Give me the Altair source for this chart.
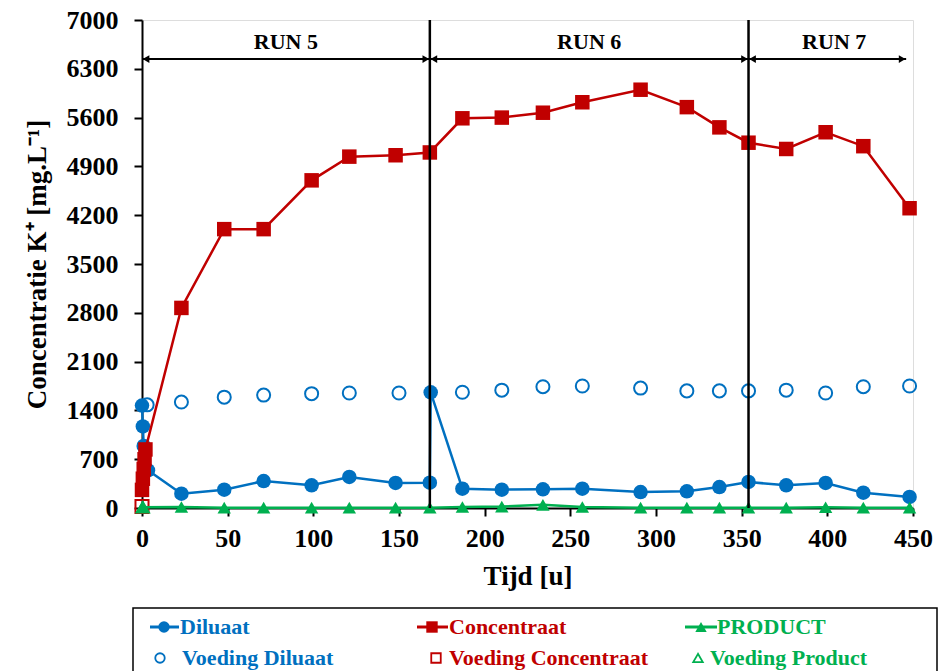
import altair as alt
import pandas as pd

# Sampling times [u] and K+ concentrations [mg/L]
dil_t = [0, 0.5, 1, 3.5, 23, 48, 71, 99, 121, 148, 168, 168.5, 187, 210, 234, 257, 291, 318, 337, 354, 376, 399, 421, 448]
dil_c = [1470, 1170, 890, 540, 205, 263, 387, 325, 445, 359, 363, 1660, 277, 263, 268, 277, 229, 239, 301, 373, 325, 359, 220, 158]

conc_t = [0, 0.5, 1, 1.5, 2, 23, 48, 71, 99, 121, 148, 168, 187, 210, 234, 257, 291, 318, 337, 354, 376, 399, 421, 448]
conc_c = [260, 420, 560, 700, 840, 2870, 4000, 4000, 4700, 5040, 5060, 5100, 5590, 5600, 5670, 5820, 6000, 5750, 5460, 5240, 5150, 5390, 5190, 4300]

prod_t = [0, 23, 48, 71, 99, 121, 148, 168, 187, 210, 234, 257, 291, 318, 337, 354, 376, 399, 421, 448]
prod_c = [10, 15, 5, 5, 5, 5, 5, 5, 15, 20, 45, 15, 5, 5, 5, 5, 5, 10, 5, 5]

feed_dil_t = [3, 23, 48, 71, 99, 121, 150, 187, 210, 234, 257, 291, 318, 337, 354, 376, 399, 421, 448]
feed_dil_c = [1480, 1520, 1590, 1620, 1640, 1650, 1650, 1660, 1690, 1740, 1750, 1720, 1680, 1680, 1680, 1690, 1650, 1740, 1750]

feed_conc_t = [0]
feed_conc_c = [20]

feed_prod_t = [0.5]
feed_prod_c = [10]

# Experimental runs
run_names = ["RUN 5", "RUN 6", "RUN 7"]
run_start = [0, 168, 354]
run_end = [168, 354, 446]
run_label_t = [84, 261, 404]
run_bounds = [168, 354]

BLUE = "#0070C0"
RED = "#C00000"
GREEN = "#00B050"
FONT = "Liberation Serif"

W, H = 771, 488
ARROW_Y = 6440
LABEL_Y = 6680

xs = alt.Scale(domain=[0, 450], nice=False)
ys = alt.Scale(domain=[0, 7000], nice=False)
X = lambda f: alt.X(f, type="quantitative", scale=xs)
Y = lambda f: alt.Y(f, type="quantitative", scale=ys)


def frame(t, c):
    return pd.DataFrame({"t": t, "c": c})


base_x = alt.X(
    "t:Q", scale=xs,
    axis=alt.Axis(
        title="Tijd [u]", values=list(range(0, 451, 50)), format="d",
        grid=False, domainColor="black", domainWidth=2, tickColor="black",
        tickWidth=2, tickSize=8, labelFont=FONT, labelFontSize=26,
        labelFontWeight="bold", labelColor="black", labelPadding=9,
        labelFlush=False, labelOverlap=False,
        titleFont=FONT, titleFontSize=27, titleFontWeight="bold",
        titleColor="black", titlePadding=12,
    ),
)
base_y = alt.Y(
    "c:Q", scale=ys,
    axis=alt.Axis(
        title="Concentratie K\u207a [mg.L\u207b\u00b9]",
        values=list(range(0, 7001, 700)), format="d", grid=False,
        domainColor="black", domainWidth=2, tickColor="black", tickWidth=2,
        tickSize=8, labelFont=FONT, labelFontSize=26, labelFontWeight="bold",
        labelColor="black", labelPadding=16, labelFlush=False, labelOverlap=False,
        titleFont=FONT, titleFontSize=27,
        titleFontWeight="bold", titleColor="black", titlePadding=15,
    ),
)

feed_dil = alt.Chart(frame(feed_dil_t, feed_dil_c)).mark_point(
    shape="circle", filled=False, color=BLUE, strokeWidth=2, size=170, opacity=1
).encode(x=base_x, y=base_y)

dil_line = alt.Chart(frame(dil_t, dil_c)).mark_line(
    color=BLUE, strokeWidth=2.5
).encode(x=X("t"), y=Y("c"), order="index:Q")
dil_pts = alt.Chart(frame(dil_t, dil_c)).mark_point(
    shape="circle", filled=True, color=BLUE, size=210, opacity=1
).encode(x=X("t"), y=Y("c"))

conc_line = alt.Chart(frame(conc_t, conc_c)).mark_line(
    color=RED, strokeWidth=2.5
).encode(x=X("t"), y=Y("c"))
conc_pts = alt.Chart(frame(conc_t, conc_c)).mark_point(
    shape="square", filled=True, color=RED, size=210, opacity=1
).encode(x=X("t"), y=Y("c"))

feed_conc = alt.Chart(frame(feed_conc_t, feed_conc_c)).mark_point(
    shape="square", filled=False, color=RED, strokeWidth=2, size=170, opacity=1
).encode(x=X("t"), y=Y("c"))

prod_line = alt.Chart(frame(prod_t, prod_c)).mark_line(
    color=GREEN, strokeWidth=2.5
).encode(x=X("t"), y=Y("c"))
prod_pts = alt.Chart(frame(prod_t, prod_c)).mark_point(
    shape="triangle-up", filled=True, color=GREEN, size=180, opacity=1
).encode(x=X("t"), y=Y("c"))

feed_prod = alt.Chart(frame(feed_prod_t, feed_prod_c)).mark_point(
    shape="triangle-up", filled=False, color=GREEN, strokeWidth=2, size=150, opacity=1
).encode(x=X("t"), y=Y("c"))

# Run boundaries and run arrows
runs = pd.DataFrame({"run": run_names, "start": run_start, "end": run_end, "mid": run_label_t})
bounds = alt.Chart(pd.DataFrame({"t": run_bounds})).mark_rule(
    color="black", strokeWidth=2.5
).encode(x=X("t"))
arrows = alt.Chart(runs).mark_rule(color="black", strokeWidth=2).encode(
    x=X("start"), x2="end", y=alt.datum(ARROW_Y)
)
heads_l = alt.Chart(runs).mark_point(
    shape="triangle-left", filled=True, color="black", size=60, opacity=1, xOffset=4
).encode(x=X("start"), y=alt.datum(ARROW_Y))
heads_r = alt.Chart(runs).mark_point(
    shape="triangle-right", filled=True, color="black", size=60, opacity=1, xOffset=-4
).encode(x=X("end"), y=alt.datum(ARROW_Y))
run_text = alt.Chart(runs).mark_text(
    font=FONT, fontSize=22, fontWeight="bold", color="black", baseline="middle"
).encode(x=X("mid"), y=alt.datum(LABEL_Y), text="run:N")

# Legend drawn below the axis title
legend_names = ["Diluaat", "Concentraat", "PRODUCT",
                "Voeding Diluaat", "Voeding Concentraat", "Voeding Product"]
legend_colors = [BLUE, RED, GREEN, BLUE, RED, GREEN]
legend_shapes = ["circle", "square", "triangle-up", "circle", "square", "triangle-up"]
col_line = [(8, 37), (275, 306), (543, 575)]
row_y = [607, 638]
marker_x = [22, 290, 559, 18, 294, 556]
text_x = [38, 307, 575, 40, 307, 568]

legend_layers = [
    alt.Chart(pd.DataFrame({"a": [0]})).mark_rect(
        fill=None, stroke="black", strokeWidth=1.5
    ).encode(x=alt.value(-9), x2=alt.value(795), y=alt.value(588), y2=alt.value(665))
]
for i, name in enumerate(legend_names):
    row = i // 3
    col = i % 3
    d = pd.DataFrame({"label": [name]})
    if row == 0:
        x0, x1 = col_line[col]
        legend_layers.append(
            alt.Chart(d).mark_rule(color=legend_colors[i], strokeWidth=3).encode(
                x=alt.value(x0), x2=alt.value(x1), y=alt.value(row_y[row])
            )
        )
    legend_layers.append(
        alt.Chart(d).mark_point(
            shape=legend_shapes[i], filled=(row == 0), color=legend_colors[i],
            size=130 if row == 0 else 90, strokeWidth=1.8, opacity=1
        ).encode(x=alt.value(marker_x[i]), y=alt.value(row_y[row]))
    )
    legend_layers.append(
        alt.Chart(d).mark_text(
            font=FONT, fontSize=22, fontWeight="bold", color=legend_colors[i],
            align="left", baseline="middle"
        ).encode(x=alt.value(text_x[i]), y=alt.value(row_y[row]), text="label:N")
    )

chart = alt.layer(
    feed_dil, dil_line, dil_pts, conc_line, conc_pts, feed_conc,
    prod_line, prod_pts, feed_prod, bounds, arrows, heads_l, heads_r, run_text,
    *legend_layers,
).properties(
    width=W, height=H,
    autosize=alt.AutoSizeParams(type="none"),
    padding={"left": 142, "top": 20, "right": 33, "bottom": 163},
).configure_view(stroke=None).configure(background="white")

chart.save("out.html", embed_options={"renderer": "svg", "actions": False})
